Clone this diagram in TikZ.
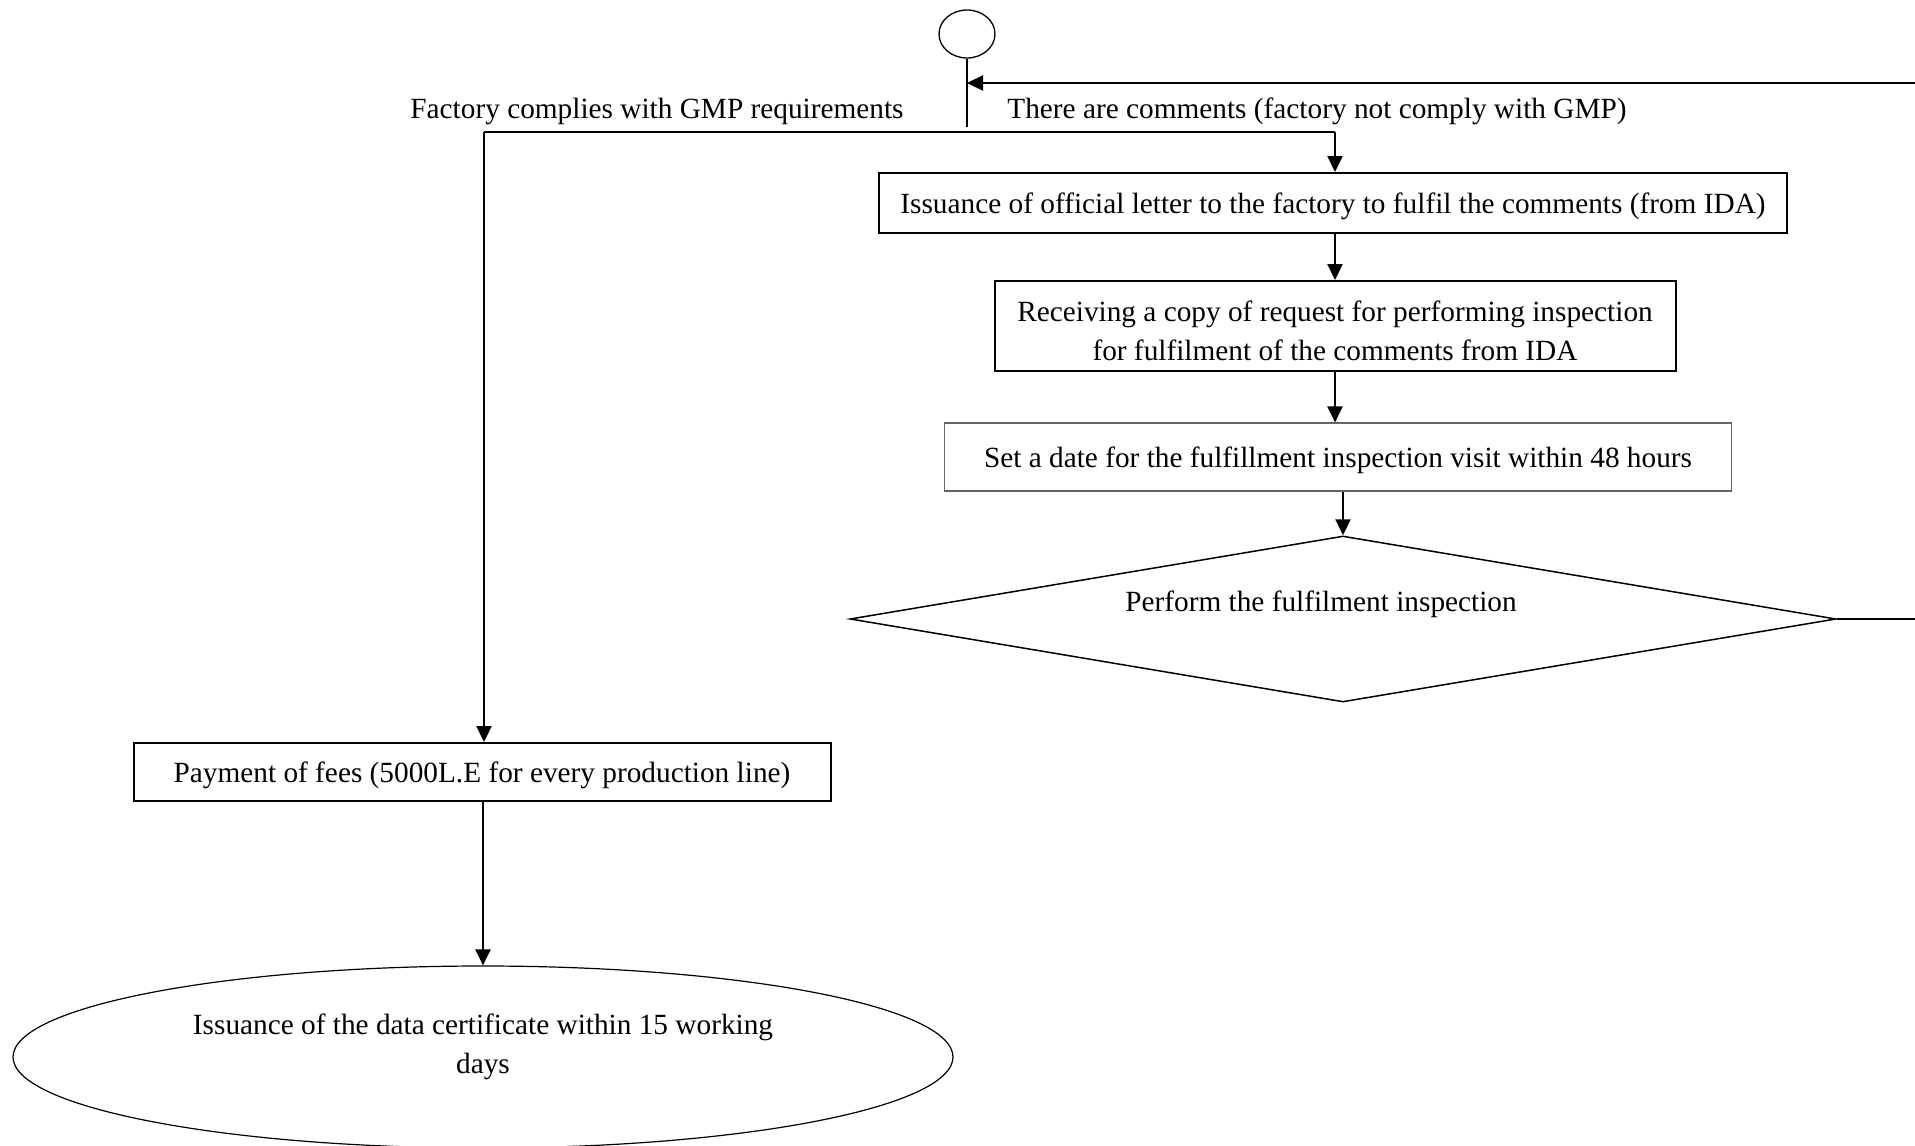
\documentclass[tikz,border=0pt]{standalone}
\usepackage{fontspec}
\setmainfont{Liberation Serif}
\usetikzlibrary{arrows.meta,shapes.geometric}
\tikzset{
  txt/.style={font=\fontsize{29.3pt}{39pt}\selectfont, inner sep=0pt},
  boxA/.style={txt, draw, line width=2pt, rectangle, align=center},
  boxB/.style={txt, draw=black!60, line width=1.2pt, rectangle, align=center},
  low/.style={text height=26pt, text depth=6pt},
  arr/.style={line width=2.3pt, -{Triangle[length=16pt,width=15pt]}},
  ln/.style={line width=2.3pt},
}
\begin{document}
\begin{tikzpicture}[x=1pt,y=-1pt]
\useasboundingbox (0,0) rectangle (1915,1146);
% start circle
\node[draw, ellipse, line width=1.3pt, minimum width=56pt, minimum height=48pt, inner sep=0pt] (start) at (967,34) {};
\coordinate (stem) at (967,127);
\draw[line width=1.6pt] (start.south) -- (stem);
% labels
\node[txt] (lblyes) at (657,111) {Factory complies with GMP requirements};
\node[txt] (lblno) at (1317,111) {There are comments (factory not comply with GMP)};
% split line
\coordinate (jl) at (484,132);
\coordinate (jr) at (1335,132);
\draw[ln] (jl) -- (jr);
% right column
\node[boxA, low, minimum width=908pt, minimum height=60pt] (box1) at (1333,203) {Issuance of official letter to the factory to fulfil the comments (from IDA)};
\node[boxA, minimum width=681pt, minimum height=90pt] (box2) at (1335,326) {\rule{0pt}{30pt}Receiving a copy of request for performing inspection\\for fulfilment of the comments from IDA};
\node[boxB, low, minimum width=787pt, minimum height=68pt] (box3) at (1338,457) {Set a date for the fulfillment inspection visit within 48 hours};
\node[draw, diamond, line width=1.5pt, aspect=5.94, minimum width=986pt, minimum height=166pt, inner sep=0pt] (dec) at (1343,619) {};
\node[txt] (dectext) at (1321,604) {Perform the fulfilment inspection};
\draw[arr] (jr) -- (jr |- box1.north);
\draw[arr] (box2.north |- box1.south) -- (box2.north);
\draw[arr] (box2.south) -- (box2.south |- box3.north);
\draw[arr] (box3.south -| dec.north) -- (dec.north);
% feedback loop
\coordinate (fb1) at (1935,619);
\coordinate (fb2) at (1935,83);
\coordinate (fbend) at (967,83);
\draw[arr] (dec.east) -- (fb1) -- (fb2) -- (fbend);
% left column
\node[boxA, low, minimum width=697pt, minimum height=58pt] (box4) at (482,772) {Payment of fees (5000L.E for every production line)};
\node[draw, ellipse, line width=1.2pt, minimum width=940pt, minimum height=182pt, inner sep=0pt] (cert) at (483,1057) {};
\node[txt, align=center] (certtext) at (483,1047) {Issuance of the data certificate within 15 working\\days};
\draw[arr] (jl) -- (jl |- box4.north);
\draw[arr] (box4.south -| cert.north) -- (cert.north);
\end{tikzpicture}
\end{document}
